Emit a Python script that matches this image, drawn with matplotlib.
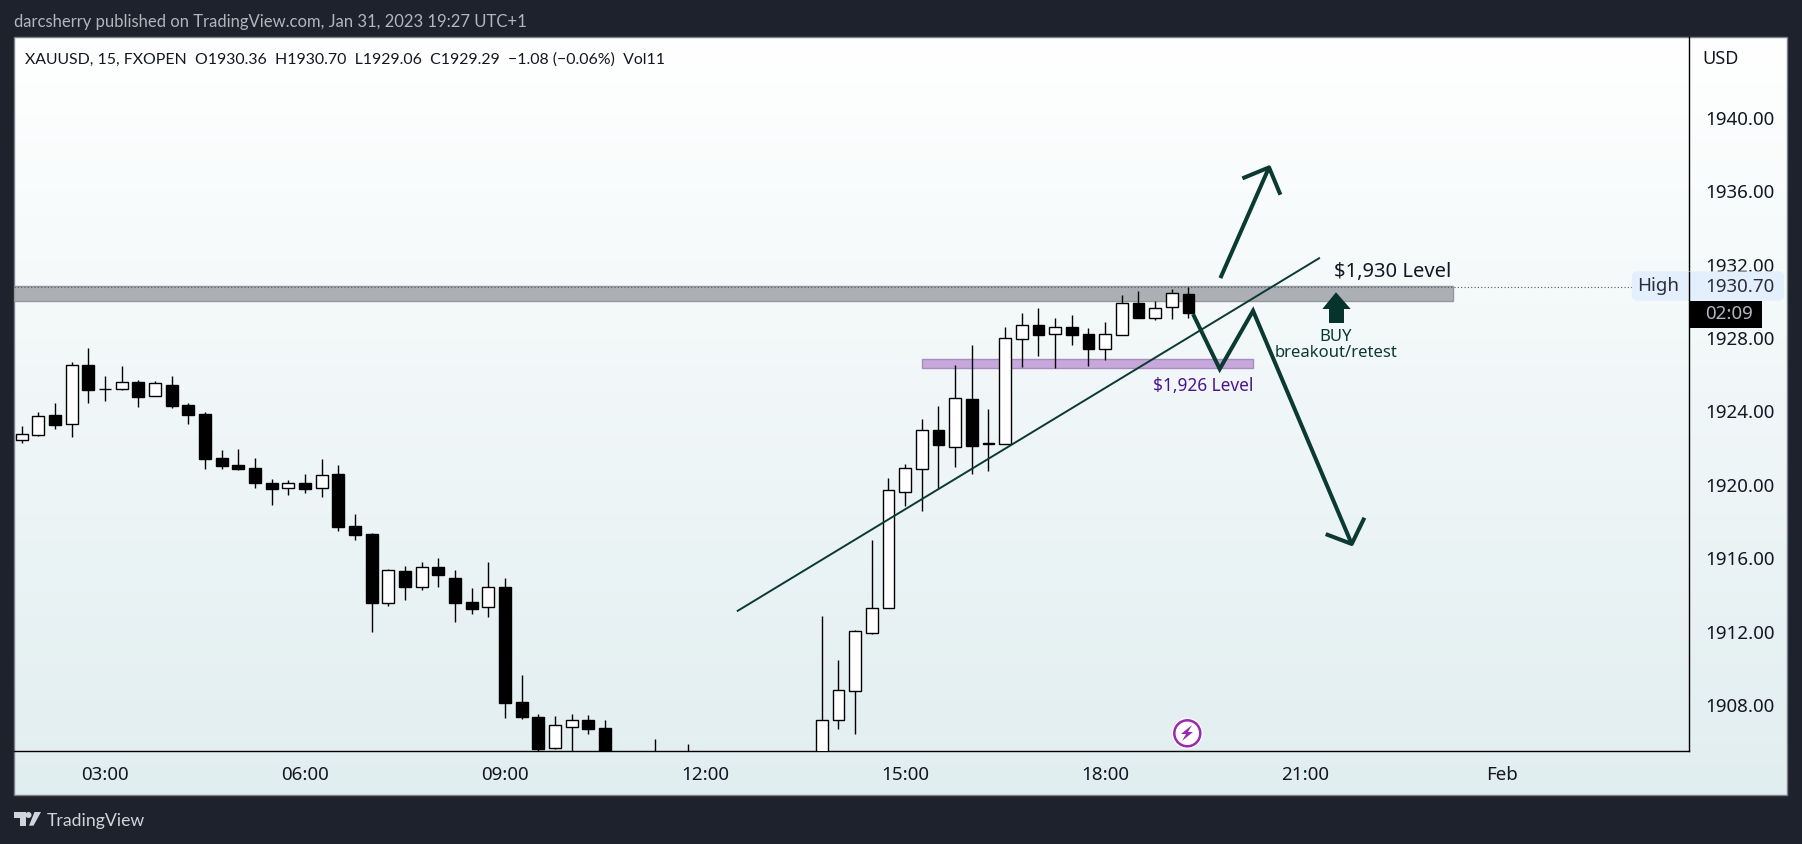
"""
XAUUSD 15m candles with the drawn levels and arrows, TradingView snapshot look.
Saves to out.png.
"""

import numpy as np
import matplotlib
matplotlib.use("Agg")
import matplotlib.pyplot as plt
from matplotlib.patches import Circle, FancyBboxPatch, Polygon, Rectangle

plt.rcParams["font.family"] = ["Noto Sans", "DejaVu Sans"]

W, H = 1802, 845
DARK = "#1e222d"
GREEN = "#0b3a32"
PURPLE = "#4a148c"

# candle prices, first bar 01:45, one bar every 15 minutes
opens = [1922.41, 1922.68, 1923.76, 1923.28, 1926.48, 1925.15, 1925.19, 1925.55, 1924.81,
         1925.39, 1924.30, 1923.81, 1921.41, 1921.03, 1920.87, 1920.05, 1919.80, 1920.05,
         1919.80, 1920.54, 1917.71, 1917.27, 1913.53, 1915.26, 1914.41, 1915.48, 1914.88,
         1913.57, 1913.32, 1914.39, 1908.12, 1907.31, 1905.64, 1906.78, 1907.14, 1906.71,
         1904.90, 1904.20, 1904.60, 1903.90, 1904.40, 1903.80, 1903.50, 1903.20, 1903.60,
         1903.40, 1903.90, 1904.20, 1904.80, 1907.16, 1908.74, 1911.90, 1913.22, 1919.58,
         1920.83, 1922.92, 1922.03, 1924.61, 1922.21, 1922.19, 1927.91, 1928.65, 1928.18,
         1928.55, 1928.16, 1927.37, 1928.13, 1929.85, 1929.05, 1929.66, 1930.36]
highs = [1923.16, 1923.90, 1924.41, 1926.64, 1927.41, 1925.88, 1926.42, 1925.66, 1925.61,
         1925.88, 1924.39, 1923.90, 1921.85, 1921.90, 1921.41, 1920.27, 1920.22, 1920.54,
         1921.36, 1921.03, 1918.36, 1917.33, 1915.37, 1915.53, 1915.75, 1915.97, 1915.31,
         1914.33, 1915.75, 1914.88, 1909.59, 1907.47, 1907.36, 1907.47, 1907.42, 1907.14,
         1905.20, 1905.00, 1906.11, 1904.80, 1905.85, 1904.60, 1904.40, 1904.30, 1904.50,
         1904.60, 1904.70, 1905.10, 1912.81, 1910.41, 1912.04, 1916.95, 1920.30, 1921.07,
         1923.54, 1924.25, 1926.48, 1927.57, 1924.08, 1928.53, 1929.31, 1929.58, 1929.04,
         1929.20, 1928.49, 1928.82, 1930.29, 1930.51, 1929.96, 1930.62, 1930.70]
lows = [1922.23, 1922.63, 1922.99, 1922.56, 1924.41, 1924.52, 1925.12, 1924.19, 1924.81,
        1924.14, 1923.27, 1920.81, 1920.81, 1920.76, 1919.78, 1918.85, 1919.40, 1919.51,
        1919.29, 1917.44, 1916.95, 1911.94, 1913.35, 1913.68, 1914.22, 1914.39, 1912.48,
        1912.92, 1912.75, 1907.25, 1907.20, 1905.40, 1905.56, 1904.80, 1906.38, 1904.60,
        1903.60, 1903.20, 1903.50, 1902.90, 1903.10, 1902.80, 1902.60, 1902.50, 1902.70,
        1902.80, 1903.00, 1903.50, 1904.00, 1906.65, 1906.38, 1911.85, 1913.22, 1918.80,
        1918.53, 1919.72, 1920.92, 1920.54, 1920.70, 1922.19, 1926.37, 1926.97, 1926.31,
        1927.57, 1926.42, 1926.75, 1928.13, 1929.04, 1928.93, 1928.98, 1929.06]
closes = [1922.70, 1923.68, 1923.21, 1926.46, 1925.12, 1925.15, 1925.54, 1924.74, 1925.48,
          1924.25, 1923.76, 1921.36, 1920.98, 1920.81, 1920.05, 1919.73, 1920.03, 1919.73,
          1920.47, 1917.66, 1917.22, 1913.52, 1915.31, 1914.39, 1915.46, 1915.04, 1913.52,
          1913.19, 1914.37, 1908.07, 1907.31, 1905.56, 1906.85, 1907.13, 1906.65, 1905.00,
          1904.30, 1904.50, 1904.00, 1904.40, 1903.70, 1903.40, 1903.10, 1903.50, 1903.30,
          1903.80, 1904.10, 1904.70, 1907.12, 1908.76, 1911.97, 1913.22, 1919.65, 1920.85,
          1922.92, 1922.12, 1924.66, 1922.07, 1922.16, 1927.93, 1928.64, 1928.11, 1928.53,
          1928.11, 1927.35, 1928.15, 1929.84, 1929.04, 1929.56, 1930.38, 1929.29]

price_ticks = [1940, 1936, 1932, 1928, 1924, 1920, 1916, 1912, 1908]
time_ticks = [3, 6, 9, 12, 15, 18, 21, 23.95]
time_labels = ["03:00", "06:00", "09:00", "12:00", "15:00", "18:00", "21:00", "Feb"]

# drawn objects, (hour, price)
trend_hours = [12.49, 21.21]
trend_prices = [1913.09, 1932.29]
up_arrow_hours = [19.73, 20.46]
up_arrow_prices = [1931.21, 1937.24]
up_head_hours = [20.06, 20.46, 20.63]
up_head_prices = [1936.64, 1937.24, 1935.75]
down_path_hours = [19.32, 19.72, 20.22, 21.70]
down_path_prices = [1929.25, 1926.26, 1929.43, 1916.73]
down_head_hours = [21.31, 21.70, 21.89]
down_head_prices = [1917.27, 1916.73, 1918.16]
level_930 = (1929.98, 1930.80)
level_930_end = 23.22
level_926 = (1926.30, 1926.80)
level_926_hours = (15.25, 20.22)
high_price = 1930.70

fig = plt.figure(figsize=(W / 100, H / 100), dpi=100, facecolor=DARK)


def px_axes(left, top, right, bottom):
    return fig.add_axes([left / W, 1 - bottom / H, (right - left) / W, (bottom - top) / H])


# pixel overlay for the frame, drawn behind and in front of the chart
bg = px_axes(0, 0, W, H)
bg.axis("off")
grad = np.linspace(0, 1, 256)[:, None, None] * (np.array([0.882, 0.933, 0.941]) - 1) + 1
bg.imshow(grad, extent=[14, 1787, 796, 38], aspect="auto", zorder=1)
bg.set_xlim(0, W)
bg.set_ylim(H, 0)
bg.add_patch(Rectangle((14, 38), 1773, 758, fc="none", ec="#7b7f88", lw=1, zorder=2))

ax = px_axes(14.5, 38, 1689, 752.3)
ax.patch.set_alpha(0)
ax.set_xlim(3 + (14.5 - 105) / 66.67, 3 + (1689 - 105) / 66.67)
ax.set_ylim(1905.44, 1944.34)
for s in ("top", "left"):
    ax.spines[s].set_visible(False)
for s in ("bottom", "right"):
    ax.spines[s].set_color("black")
    ax.spines[s].set_linewidth(1.0)
ax.yaxis.tick_right()
ax.set_xticks(time_ticks, time_labels, fontsize=13.5, color="#131722")
ax.set_yticks(price_ticks, [f"{p:.2f}" for p in price_ticks], fontsize=13.5, color="#131722")
ax.tick_params(length=0)
ax.tick_params(axis="x", pad=10)
ax.tick_params(axis="y", pad=12)

hours = 1.75 + 0.25 * np.arange(len(opens))
span = ax.get_xlim()

# levels sit under the candles
ax.add_patch(Rectangle((span[0], level_930[0]), level_930_end - span[0], level_930[1] - level_930[0],
                       fc="#acafb3", ec="#94979c", lw=1, zorder=2))
ax.add_patch(Rectangle((level_926_hours[0], level_926[0]), level_926_hours[1] - level_926_hours[0],
                       level_926[1] - level_926[0], fc="#c6a9da", ec="#a98bc0", lw=1, zorder=2))
ax.plot([span[0], 25.9], [high_price] * 2, color="#555a64", lw=0.8, ls=(0, (1, 2)), zorder=2.5)

for h, o, hi, lo, c in zip(hours, opens, highs, lows, closes):
    ax.plot([h, h], [lo, hi], color="black", lw=1.0, zorder=3, solid_capstyle="butt")
    fc = "white" if c >= o else "black"
    ax.add_patch(Rectangle((h - 0.088, min(o, c)), 0.176, max(abs(c - o), 0.02),
                           fc=fc, ec="black", lw=1.0, zorder=4))

ax.plot(trend_hours, trend_prices, color=GREEN, lw=1.4, zorder=5)

ax.plot(up_arrow_hours, up_arrow_prices, color=GREEN, lw=2.9, zorder=5, solid_capstyle="butt")
ax.plot(up_head_hours, up_head_prices, color=GREEN, lw=2.9, zorder=5,
        solid_joinstyle="round", solid_capstyle="butt")
ax.plot(down_path_hours, down_path_prices, color=GREEN, lw=2.9, zorder=5,
        solid_joinstyle="miter", solid_capstyle="butt")
ax.plot(down_head_hours, down_head_prices, color=GREEN, lw=2.9, zorder=5,
        solid_joinstyle="round", solid_capstyle="butt")

ax.text(21.44, 1931.57, "$1,930 Level", fontsize=14.5, color="#131722", va="center", zorder=6)
ax.text(20.22, 1925.38, "$1,926 Level", fontsize=12.4, color=PURPLE, ha="right", va="center", zorder=6)
ax.text(21.46, 1928.05, "BUY", fontsize=12, color=GREEN, ha="center", va="center", zorder=6)
ax.text(21.46, 1927.17, "breakout/retest", fontsize=12, color=GREEN, ha="center", va="center", zorder=6)

# pixel overlay in front for labels and badges
fg = px_axes(0, 0, W, H)
fg.set_xlim(0, W)
fg.set_ylim(H, 0)
fg.axis("off")
fg.patch.set_alpha(0)

fg.add_patch(Polygon([(1336, 293.3), (1350.7, 310), (1344, 310), (1344, 324), (1329, 324), (1329, 310), (1322.3, 310)],
                     fc="#06332b", ec="none", zorder=6))

fg.add_patch(FancyBboxPatch((1634, 274.5), 148, 25, boxstyle="round,pad=0,rounding_size=3",
                            fc="#e3effd", ec="#e3effd", lw=3, zorder=3))
fg.plot([1688.5, 1688.5], [273, 301], color="black", lw=1.0, zorder=4)
fg.text(1658.5, 285.7, "High", fontsize=13.5, color="#2a2e39", ha="center", va="center", zorder=5)
fg.text(1739.5, 287.3, "1930.70", fontsize=13.5, color="#2a2e39", ha="center", va="center", zorder=5)
fg.add_patch(Rectangle((1689.5, 302), 72.5, 27, fc="black", ec="none", zorder=3))
fg.text(1729, 314, "02:09", fontsize=13.5, color="#b2b5be", ha="center", va="center", zorder=5)
fg.text(1702.5, 59, "USD", fontsize=13, color="#131722", va="center")

fg.add_patch(Circle((1187.3, 734.3), 15.5, fc="white", ec="none", zorder=6))
fg.add_patch(Circle((1187.3, 734.3), 13, fc="white", ec="#9c27b0", lw=1.8, zorder=7))
fg.add_patch(Polygon([(1192, 726), (1181, 735), (1186, 735), (1182, 742), (1193, 733), (1188, 733)],
                     fc="#9c27b0", ec="none", zorder=8))

fg.text(14, 21.5, "darcsherry published on TradingView.com, Jan 31, 2023 19:27 UTC+1",
        fontsize=12, family=["Lato", "DejaVu Sans"], color="#b2b5be", va="center")
fg.text(25, 60, "XAUUSD, 15, FXOPEN  O1930.36  H1930.70  L1929.06  C1929.29  \u22121.08 (\u22120.06%)  Vol11",
        fontsize=11.4, family=["Lato", "DejaVu Sans"], color="#131722", va="center")

fg.add_patch(Polygon([(14.3, 813), (25.7, 813), (25.7, 826.7), (20, 826.7), (20, 819), (14.3, 819)],
                     fc="#d1d4dc", ec="none"))
fg.add_patch(Circle((28.5, 816), 3, fc="#d1d4dc", ec="none"))
fg.add_patch(Polygon([(33.5, 826.7), (41, 813), (34.5, 813), (29, 826.7)], fc="#d1d4dc", ec="none"))
fg.text(46.5, 821.5, "TradingView", fontsize=12.7, family=["Lato", "DejaVu Sans"], color="#d1d4dc", va="center")

fig.savefig("out.png", dpi=100, facecolor=DARK)
